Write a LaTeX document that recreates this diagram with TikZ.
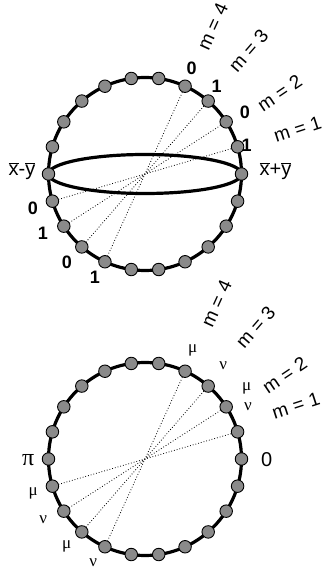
\documentclass[tikz,border=0pt]{standalone}
\usepackage{fontspec}
\setmainfont{Liberation Sans}
\newfontfamily\greekfont{Liberation Serif}
\usetikzlibrary{calc}
\definecolor{beadgray}{RGB}{138,138,138}
\begin{document}
\begin{tikzpicture}[x=1pt,y=1pt,
  bead/.style={circle,draw=black,fill=beadgray,line width=0.9pt,minimum size=12.5pt,inner sep=0pt},
  rim/.style={line width=3.2pt},
  chord/.style={dotted,line width=0.8pt},
  mlab/.style={font=\fontsize{19}{19}\selectfont,inner sep=0pt},
  bit/.style={font=\fontsize{18}{18}\selectfont\bfseries,inner sep=0pt},
  plain/.style={font=\fontsize{20}{20}\selectfont,inner sep=0pt},
  gk/.style={font=\greekfont\fontsize{17}{17}\selectfont,inner sep=0pt},
  pil/.style={font=\greekfont\fontsize{24}{24}\selectfont,inner sep=0pt}]
\useasboundingbox (0,0) rectangle (323,574);
\coordinate (T) at (145,400);
\coordinate (B) at (145,115);
% ---------- top sphere ----------
\draw[rim] (T) circle (96.5);
\draw[rim] (T) ellipse (96.5 and 19.5);
\foreach \k in {0,...,21}
  \node[bead] (t\k) at ($(T)+({\k*360/22}:96.5)$) {};
\draw[chord] (t1) -- (t12);
\draw[chord] (t2) -- (t13);
\draw[chord] (t3) -- (t14);
\draw[chord] (t4) -- (t15);
\node[plain] (tl) at (22,403) {\ensuremath{\overline{\mbox{x}}}-\ensuremath{\overline{\mbox{y}}}};
\node[plain] (tr) at (275.5,403) {\ensuremath{\overline{\mbox{x}}}+\ensuremath{\overline{\mbox{y}}}};
\node[bit] (tb1) at (246.7,429) {1};
\node[bit] (tb2) at (245,462) {0};
\node[bit] (tb3) at (216.7,488) {1};
\node[bit] (tb4) at (191.7,506) {0};
\node[bit] (tb12) at (33,366) {0};
\node[bit] (tb13) at (43,341) {1};
\node[bit] (tb14) at (67,312) {0};
\node[bit] (tb15) at (95,297) {1};
\node[mlab,rotate=18] (tm1) at ($(T)+(16.4:159)$) {m\hspace{.3em}=\hspace{.3em}1};
\node[mlab,rotate=34] (tm2) at ($(T)+(31:157)$) {m\hspace{.3em}=\hspace{.3em}2};
\node[mlab,rotate=49] (tm3) at ($(T)+(50:161)$) {m\hspace{.3em}=\hspace{.3em}3};
\node[mlab,rotate=65.5] (tm4) at ($(T)+(65.3:162)$) {m\hspace{.3em}=\hspace{.3em}4};
% ---------- bottom circle ----------
\draw[rim] (B) circle (96.5);
\foreach \k in {0,...,21}
  \node[bead] (b\k) at ($(B)+({\k*360/22}:96.5)$) {};
\draw[chord] (b1) -- (b12);
\draw[chord] (b2) -- (b13);
\draw[chord] (b3) -- (b14);
\draw[chord] (b4) -- (b15);
\node[pil] (bl) at (28.3,114) {π};
\node[plain] (br) at (266.7,114) {0};
\node[gk] (bg1) at (248,167) {ν};
\node[gk] (bg2) at (246.7,185.7) {μ};
\node[gk] (bg3) at (223.3,208) {ν};
\node[gk] (bg4) at (192.7,224) {μ};
\node[gk] (bg12) at (33.3,80.7) {μ};
\node[gk] (bg13) at (43.3,54) {ν};
\node[gk] (bg14) at (66.7,27.3) {μ};
\node[gk] (bg15) at (93.3,11.3) {ν};
\node[mlab,rotate=18] (bm1) at ($(B)+(19.5:160)$) {m\hspace{.3em}=\hspace{.3em}1};
\node[mlab,rotate=34] (bm2) at ($(B)+(31:163)$) {m\hspace{.3em}=\hspace{.3em}2};
\node[mlab,rotate=49] (bm3) at ($(B)+(50:172)$) {m\hspace{.3em}=\hspace{.3em}3};
\node[mlab,rotate=65.5] (bm4) at ($(B)+(65.3:171)$) {m\hspace{.3em}=\hspace{.3em}4};
\end{tikzpicture}
\end{document}
